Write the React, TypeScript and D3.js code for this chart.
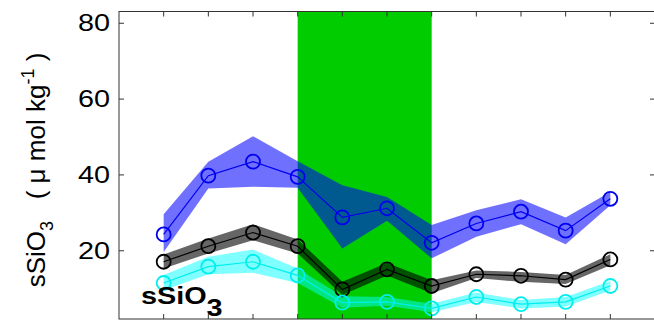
import { useEffect, useRef } from 'react';
import * as d3 from 'd3';

// station index along the transect
const stations = [1, 2, 3, 4, 5, 6, 7, 8, 9, 10, 11];
const yTicks = [20, 40, 60, 80];
const shadedFrom = 4;
const shadedTo = 7;

const blueMean = [24.3, 39.8, 43.5, 39.5, 28.8, 31.2, 22.1, 27.2, 30.3, 25.3, 33.7];
const blueHi = [29.6, 43.5, 50.2, 43.6, 37.3, 34.2, 26.8, 30.7, 33.6, 28.8, 35.5];
const blueLo = [19.7, 36.4, 36.9, 36.6, 20.6, 27.9, 18.0, 23.7, 27.0, 21.7, 32.0];

const blackMean = [17.1, 21.2, 24.8, 21.2, 9.8, 15.1, 10.7, 13.8, 13.4, 12.4, 17.7];
const blackHi = [19.0, 23.2, 27.0, 23.0, 11.8, 16.8, 12.2, 14.8, 14.4, 13.6, 19.1];
const blackLo = [15.3, 19.3, 22.8, 19.3, 8.3, 13.5, 8.8, 12.8, 11.8, 11.2, 16.2];

const cyanMean = [11.5, 15.8, 17.1, 13.5, 6.3, 6.5, 4.8, 7.8, 5.9, 6.5, 10.7];
const cyanHi = [13.6, 18.4, 20.3, 15.3, 8.0, 7.8, 6.0, 9.0, 7.0, 7.8, 12.0];
const cyanLo = [9.6, 13.8, 14.2, 11.5, 5.0, 5.5, 3.8, 6.5, 4.8, 5.3, 9.5];

const series = [
  { mean: blueMean, hi: blueHi, lo: blueLo, line: '#0000f0', band: '#0000ff', alpha: 0.56 },
  { mean: blackMean, hi: blackHi, lo: blackLo, line: '#000000', band: '#000000', alpha: 0.6 },
  { mean: cyanMean, hi: cyanHi, lo: cyanLo, line: '#00eeee', band: '#00ffff', alpha: 0.5 },
];

export default function App() {
  const ref = useRef<SVGSVGElement | null>(null);

  useEffect(() => {
    const svgEl = ref.current;
    if (!svgEl) return undefined;
    const width = 654;
    const height = 325;
    const left = 119;
    const right = 655;
    const top = 11.5;
    const bottom = 319;

    const svg = d3.select(svgEl);
    svg.selectAll('*').remove();

    const x = d3.scaleLinear().domain([0, 12]).range([left, right]);
    const y = d3.scaleLinear().domain([2, 83.1]).range([bottom, top]);

    svg.append('rect').attr('width', width).attr('height', height).attr('fill', '#fff');

    svg
      .append('rect')
      .attr('x', x(shadedFrom))
      .attr('y', top)
      .attr('width', x(shadedTo) - x(shadedFrom))
      .attr('height', bottom - top)
      .attr('fill', '#00cc00');

    series.forEach(s => {
      const area = d3
        .area<number>()
        .x((_, i) => x(stations[i]))
        .y0((_, i) => y(s.lo[i]))
        .y1(d => y(d));
      svg
        .append('path')
        .datum(s.hi)
        .attr('fill', s.band)
        .attr('fill-opacity', s.alpha)
        .attr('d', area);
    });

    series.forEach(s => {
      const line = d3
        .line<number>()
        .x((_, i) => x(stations[i]))
        .y(d => y(d));
      svg
        .append('path')
        .datum(s.mean)
        .attr('fill', 'none')
        .attr('stroke', s.line)
        .attr('stroke-width', 1.2)
        .attr('d', line);
      svg
        .append('g')
        .selectAll('circle')
        .data(s.mean)
        .join('circle')
        .attr('cx', (_, i) => x(stations[i]))
        .attr('cy', d => y(d))
        .attr('r', 7)
        .attr('fill', 'none')
        .attr('stroke', s.line)
        .attr('stroke-width', 1.8);
    });

    // axes box and ticks
    const axisColor = '#333';
    svg
      .append('rect')
      .attr('x', left)
      .attr('y', top)
      .attr('width', right - left)
      .attr('height', bottom - top)
      .attr('fill', 'none')
      .attr('stroke', axisColor)
      .attr('stroke-width', 1);

    const ticks = svg.append('g').attr('stroke', axisColor).attr('stroke-width', 1);
    stations.forEach(st => {
      ticks.append('line').attr('x1', x(st)).attr('x2', x(st)).attr('y1', top).attr('y2', top + 5);
      ticks.append('line').attr('x1', x(st)).attr('x2', x(st)).attr('y1', bottom).attr('y2', bottom - 5);
    });
    yTicks.forEach(v => {
      ticks.append('line').attr('x1', left).attr('x2', left + 5).attr('y1', y(v)).attr('y2', y(v));
      ticks.append('line').attr('x1', right).attr('x2', right - 5).attr('y1', y(v)).attr('y2', y(v));
    });

    const font = 'Liberation Sans, Arial, Helvetica, sans-serif';
    yTicks.forEach(v => {
      svg
        .append('text')
        .attr('transform', `translate(110,${y(v)}) scale(1.2,1)`)
        .attr('text-anchor', 'end')
        .attr('dominant-baseline', 'central')
        .attr('font-family', font)
        .attr('font-size', 24)
        .attr('fill', '#000')
        .text(v);
    });

    // y axis title
    const title = svg
      .append('text')
      .attr('transform', `translate(45,170) rotate(-90)`)
      .attr('text-anchor', 'middle')
      .attr('font-family', font)
      .attr('font-size', 26)
      .attr('fill', '#000')
      .attr('xml:space', 'preserve');
    title.append('tspan').text('sSiO');
    title.append('tspan').attr('font-size', 18).attr('dy', 8).text('3');
    title.append('tspan').attr('dy', -8).text('\u00a0\u00a0\u00a0(\u00a0\u03bc mol kg');
    title.append('tspan').attr('font-size', 18).attr('dy', -11).text('-1');
    title.append('tspan').attr('dy', 11).text('\u00a0)');

    // in-plot label
    const label = svg
      .append('text')
      .attr('transform', `translate(141,304) scale(1.2,1)`)
      .attr('font-family', font)
      .attr('font-weight', 'bold')
      .attr('font-size', 24)
      .attr('fill', '#000');
    label.append('tspan').text('sSiO');
    label.append('tspan').attr('dy', 12).text('3');

    return () => {
      svg.selectAll('*').remove();
    };
  }, []);

  return (
    <svg
      ref={ref}
      width={654}
      height={325}
      style={{ position: 'absolute', left: 0, top: 0, display: 'block' }}
    />
  );
}
